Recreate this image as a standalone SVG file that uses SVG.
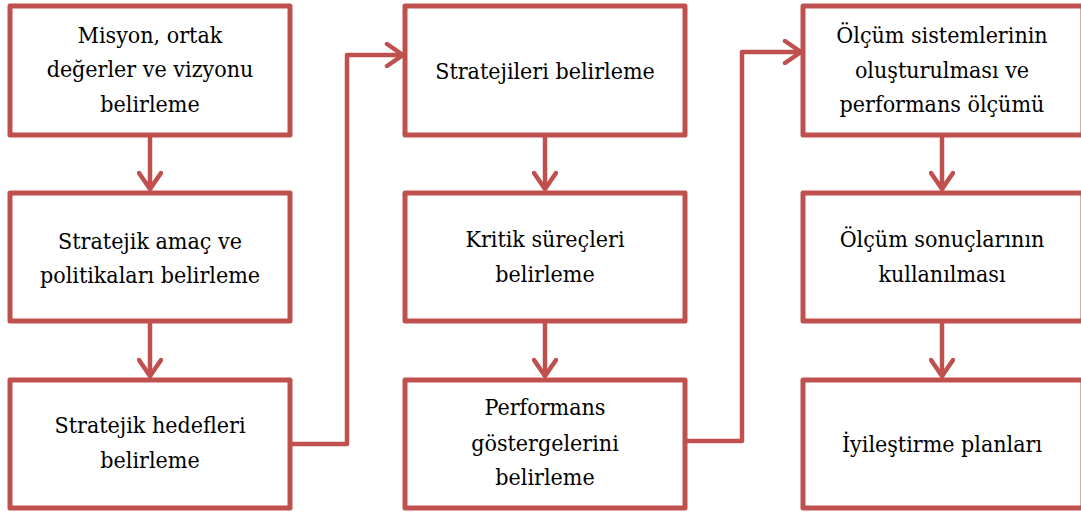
<svg xmlns="http://www.w3.org/2000/svg" width="1081" height="514" viewBox="0 0 1081 514">
  <style>
    .box { fill: #FFFFFF; stroke: #C0504D; stroke-width: 5; stroke-linejoin: round; }
    .link { fill: none; stroke: #C0504D; stroke-width: 4.5; stroke-linejoin: round; }
    .label { font-family: "DejaVu Serif Condensed", "DejaVu Serif", serif; font-stretch: condensed; font-size: 23px; fill: #000000; text-anchor: middle; }
  </style>
  <defs>
    <marker id="chevron" viewBox="0 0 26 26" refX="22" refY="13" markerWidth="26" markerHeight="26" markerUnits="userSpaceOnUse" orient="auto">
      <path d="M5,2 L21,13 L5,24" fill="none" stroke="#C0504D" stroke-width="4.5" stroke-linecap="round" stroke-linejoin="round"/>
    </marker>
  </defs>

  <rect width="1081" height="514" fill="#FFFFFF"/>

  <!-- connectors -->
  <g id="connectors">
    <line class="link" x1="150" y1="135" x2="150" y2="190" marker-end="url(#chevron)"/>
    <line class="link" x1="150" y1="321" x2="150" y2="377" marker-end="url(#chevron)"/>
    <polyline class="link" points="290,444 347,444 347,55 404,55" marker-end="url(#chevron)"/>
    <line class="link" x1="545" y1="135" x2="545" y2="190" marker-end="url(#chevron)"/>
    <line class="link" x1="545" y1="321" x2="545" y2="377" marker-end="url(#chevron)"/>
    <polyline class="link" points="685,441 742,441 742,52 802,52" marker-end="url(#chevron)"/>
    <line class="link" x1="942" y1="135" x2="942" y2="190" marker-end="url(#chevron)"/>
    <line class="link" x1="942" y1="321" x2="942" y2="377" marker-end="url(#chevron)"/>
  </g>

  <!-- column 1 -->
  <g id="misyon">
    <rect class="box" x="10" y="6" width="280" height="129"/>
    <text class="label" x="150" y="43">Misyon, ortak</text>
    <text class="label" x="150" y="77">değerler ve vizyonu</text>
    <text class="label" x="150" y="112">belirleme</text>
  </g>
  <g id="stratejik-amac">
    <rect class="box" x="10" y="193" width="280" height="128"/>
    <text class="label" x="150" y="249">Stratejik amaç ve</text>
    <text class="label" x="150" y="283">politikaları belirleme</text>
  </g>
  <g id="stratejik-hedef">
    <rect class="box" x="10" y="380" width="280" height="128"/>
    <text class="label" x="150" y="433">Stratejik hedefleri</text>
    <text class="label" x="150" y="468">belirleme</text>
  </g>

  <!-- column 2 -->
  <g id="stratejiler">
    <rect class="box" x="405" y="6" width="280" height="129"/>
    <text class="label" x="545" y="79">Stratejileri belirleme</text>
  </g>
  <g id="kritik-surecler">
    <rect class="box" x="405" y="193" width="280" height="128"/>
    <text class="label" x="545" y="247">Kritik süreçleri</text>
    <text class="label" x="545" y="282">belirleme</text>
  </g>
  <g id="performans-gostergeleri">
    <rect class="box" x="405" y="380" width="280" height="128"/>
    <text class="label" x="545" y="415">Performans</text>
    <text class="label" x="545" y="451">göstergelerini</text>
    <text class="label" x="545" y="485">belirleme</text>
  </g>

  <!-- column 3 -->
  <g id="olcum-sistemleri">
    <rect class="box" x="803" y="6" width="280" height="129"/>
    <text class="label" x="942" y="43">Ölçüm sistemlerinin</text>
    <text class="label" x="942" y="78">oluşturulması ve</text>
    <text class="label" x="942" y="112">performans ölçümü</text>
  </g>
  <g id="olcum-sonuclari">
    <rect class="box" x="803" y="193" width="280" height="128"/>
    <text class="label" x="942" y="247">Ölçüm sonuçlarının</text>
    <text class="label" x="942" y="282">kullanılması</text>
  </g>
  <g id="iyilestirme">
    <rect class="box" x="803" y="380" width="280" height="128"/>
    <text class="label" x="942" y="452">İyileştirme planları</text>
  </g>
</svg>
